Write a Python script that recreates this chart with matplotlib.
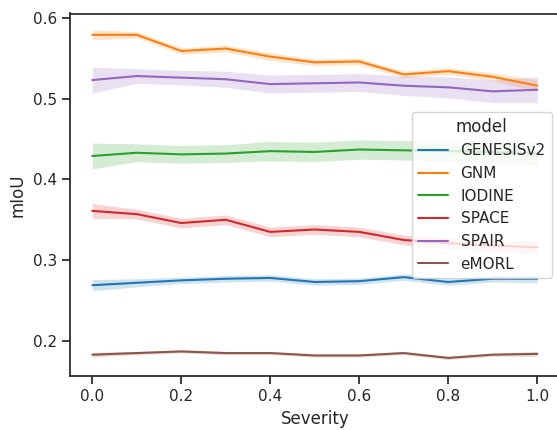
import matplotlib
matplotlib.use('Agg')
import matplotlib.pyplot as plt
import seaborn as sns

severity = [0.0, 0.1, 0.2, 0.3, 0.4, 0.5, 0.6, 0.7, 0.8, 0.9, 1.0]
models = ['GENESISv2', 'GNM', 'IODINE', 'SPACE', 'SPAIR', 'eMORL']

genesis_mean = [0.269, 0.272, 0.275, 0.277, 0.278, 0.273, 0.274, 0.279, 0.273, 0.277, 0.277]
genesis_err = [0.007, 0.005, 0.004, 0.004, 0.004, 0.004, 0.004, 0.004, 0.004, 0.004, 0.005]

gnm_mean = [0.579, 0.579, 0.559, 0.562, 0.552, 0.545, 0.546, 0.530, 0.534, 0.527, 0.516]
gnm_err = [0.006, 0.004, 0.004, 0.004, 0.005, 0.004, 0.004, 0.004, 0.004, 0.005, 0.007]

iodine_mean = [0.429, 0.433, 0.431, 0.432, 0.435, 0.434, 0.437, 0.436, 0.435, 0.434, 0.432]
iodine_err = [0.016, 0.011, 0.011, 0.011, 0.012, 0.012, 0.012, 0.012, 0.013, 0.014, 0.015]

space_mean = [0.361, 0.357, 0.346, 0.350, 0.335, 0.338, 0.335, 0.325, 0.321, 0.318, 0.316]
space_err = [0.009, 0.006, 0.006, 0.006, 0.006, 0.006, 0.006, 0.006, 0.007, 0.007, 0.008]

spair_mean = [0.523, 0.528, 0.526, 0.524, 0.518, 0.519, 0.520, 0.516, 0.514, 0.509, 0.511]
spair_err = [0.016, 0.009, 0.009, 0.010, 0.011, 0.011, 0.011, 0.012, 0.013, 0.014, 0.016]

emorl_mean = [0.183, 0.185, 0.187, 0.185, 0.185, 0.182, 0.182, 0.185, 0.179, 0.183, 0.184]
emorl_err = [0.003, 0.002, 0.002, 0.002, 0.002, 0.002, 0.002, 0.002, 0.002, 0.002, 0.003]

means = [genesis_mean, gnm_mean, iodine_mean, space_mean, spair_mean, emorl_mean]
errs = [genesis_err, gnm_err, iodine_err, space_err, spair_err, emorl_err]

sns.set_theme(context='notebook', style='ticks')
plt.rcParams['font.family'] = ['DejaVu Sans']

fig = plt.figure(figsize=(5.57, 4.30), dpi=100)
ax = fig.add_axes([70 / 557, 1 - 376 / 430, (559.5 - 70) / 557, (376 - 13.5) / 430])

colors = sns.color_palette('tab10', len(models))
for name, m, e, c in zip(models, means, errs, colors):
    lo = [a - b for a, b in zip(m, e)]
    hi = [a + b for a, b in zip(m, e)]
    ax.plot(severity, m, color=c, label=name)
    ax.fill_between(severity, lo, hi, color=c, alpha=0.2, linewidth=0)

ax.set_xlabel('Severity')
ax.set_ylabel('mIoU')
ax.set_xticks([0.0, 0.2, 0.4, 0.6, 0.8, 1.0])
ax.set_yticks([0.2, 0.3, 0.4, 0.5, 0.6])
ax.legend(title='model', loc='center right')

fig.savefig('out.png', dpi=100)
